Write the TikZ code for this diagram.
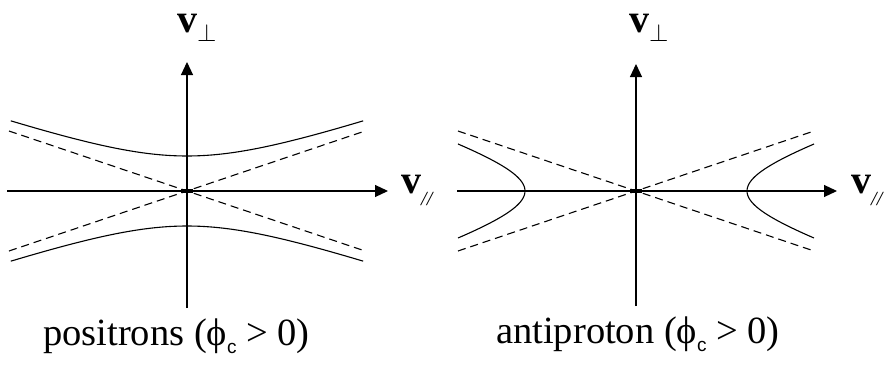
\documentclass[tikz,border=0pt]{standalone}
\usepackage{fontspec}
\setmainfont{Liberation Serif}
\newfontfamily\subsans{Liberation Sans}
\usetikzlibrary{arrows.meta}

\newcommand{\subc}{\raisebox{-8pt}{\fontsize{19}{19}\selectfont\subsans c}}
\newcommand{\vperp}{\textbf{v}\raisebox{-9pt}{$\scriptstyle\perp$}}
\newcommand{\vpar}{\textbf{v}\raisebox{-12pt}{\fontsize{20}{20}\selectfont\itshape //}}

\begin{document}
\begin{tikzpicture}[
    x=1pt, y=-1pt,
    axis/.style={line width=1.1pt, -{Triangle[length=13pt, width=12pt]}},
    branch/.style={line width=1.1pt},
    asym/.style={line width=1.1pt, dash pattern=on 8pt off 5pt},
    vlbl/.style={inner sep=0pt, anchor=base west, font=\fontsize{40}{44}\selectfont},
    caption/.style={inner sep=0pt, anchor=base west, font=\fontsize{38.5}{42}\selectfont},
    origin/.style={fill=black, minimum width=12pt, minimum height=4pt, inner sep=0pt}
]
    \useasboundingbox (0,0) rectangle (888,364);

    % positrons
    \coordinate (oL) at (187,191);
    \coordinate (xLa) at (7,191);
    \coordinate (xLb) at (388,191);
    \coordinate (yLa) at (187,308);
    \coordinate (yLb) at (187,62);
    \draw [axis] (xLa) -- (xLb);
    \draw [axis] (yLa) -- (yLb);
    \draw [asym] (9,131) -- (oL) -- (365,251);
    \draw [asym] (9,251) -- (oL) -- (365,131);
    \draw [branch] plot[domain=-1.32:1.32, samples=60] ({187+101.4*sinh(\x)}, {191-35*cosh(\x)});
    \draw [branch] plot[domain=-1.32:1.32, samples=60] ({187+101.4*sinh(\x)}, {191+35*cosh(\x)});
    \node [origin] (dotL) at (oL) {};
    \node [vlbl] (vperpL) at (177,32) {\vperp};
    \node [vlbl] (vparL) at (401,193) {\vpar};
    \node [caption] (posL) at (43,345) {positrons (ϕ\subc{} > 0)};

    % antiproton
    \coordinate (oR) at (636,191);
    \coordinate (xRa) at (457,191);
    \coordinate (xRb) at (837,191);
    \coordinate (yRa) at (636,306);
    \coordinate (yRb) at (636,64);
    \draw [axis] (xRa) -- (xRb);
    \draw [axis] (yRa) -- (yRb);
    \draw [asym] (458,131) -- (oR) -- (814,251);
    \draw [asym] (458,251) -- (oR) -- (814,131);
    \draw [branch] plot[domain=-1.05:1.05, samples=60] ({636+111*cosh(\x)}, {191+37.5*sinh(\x)});
    \draw [branch] plot[domain=-1.05:1.05, samples=60] ({636-111*cosh(\x)}, {191+37.5*sinh(\x)});
    \node [origin] (dotR) at (oR) {};
    \node [vlbl] (vperpR) at (629,32) {\vperp};
    \node [vlbl] (vparR) at (851,193) {\vpar};
    \node [caption] (antiR) at (496,343) {antiproton (ϕ\subc{} > 0)};
\end{tikzpicture}
\end{document}
